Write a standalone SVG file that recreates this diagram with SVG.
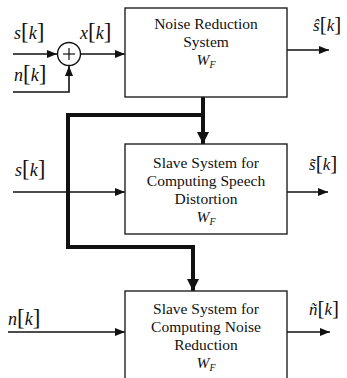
<svg xmlns="http://www.w3.org/2000/svg" width="347" height="378" viewBox="0 0 347 378">
  <style>
    .box { fill: #ffffff; stroke: #222; stroke-width: 1.4; }
    .t { font-family: "Liberation Serif", "Times New Roman", serif; font-size: 15.5px; fill: #111; text-anchor: middle; }
    .m { font-family: "Liberation Serif", "Times New Roman", serif; fill: #111; }
    .i { font-style: italic; }
    .thin { fill: none; stroke: #111; stroke-width: 1.6; }
    .thick { fill: none; stroke: #111; stroke-width: 4; stroke-linejoin: miter; }
  </style>
  <defs>
    <marker id="arr" viewBox="0 0 10 8" refX="10" refY="4" markerWidth="10" markerHeight="8" markerUnits="userSpaceOnUse" orient="auto">
      <path d="M0,0 L10,4 L0,8 Z" fill="#111"/>
    </marker>
    <marker id="arrB" viewBox="0 0 12 12" refX="12" refY="6" markerWidth="12" markerHeight="12" markerUnits="userSpaceOnUse" orient="auto">
      <path d="M0,0 L12,6 L0,12 Z" fill="#111"/>
    </marker>
  </defs>

  <!-- signal connectors -->
  <g id="connectors">
    <line class="thin" x1="13" y1="54" x2="57" y2="54" marker-end="url(#arr)"/>
    <polyline class="thin" points="13,92 69,92 69,66" marker-end="url(#arr)"/>
    <line class="thin" x1="81" y1="54" x2="125" y2="54" marker-end="url(#arr)"/>
    <line class="thin" x1="287" y1="50" x2="329" y2="50" marker-end="url(#arr)"/>
    <line class="thin" x1="13" y1="192" x2="125" y2="192" marker-end="url(#arr)"/>
    <line class="thin" x1="287" y1="192" x2="328" y2="192" marker-end="url(#arr)"/>
    <line class="thin" x1="8" y1="332" x2="125" y2="332" marker-end="url(#arr)"/>
    <line class="thin" x1="287" y1="332" x2="330" y2="332" marker-end="url(#arr)"/>
    <!-- filter weights W_F distributed to the slave systems -->
    <line class="thick" x1="203" y1="97" x2="203" y2="144" marker-end="url(#arrB)"/>
    <polyline class="thick" points="203,115 68,115 68,247 193,247 193,291" marker-end="url(#arrB)"/>
  </g>

  <!-- summing junction -->
  <g id="sum">
    <circle cx="69" cy="54" r="11.5" fill="#fff" stroke="#111" stroke-width="1.4"/>
    <line x1="69" y1="48" x2="69" y2="60" stroke="#111" stroke-width="1.2"/>
    <line x1="63" y1="54" x2="75" y2="54" stroke="#111" stroke-width="1.2"/>
  </g>

  <g id="noise-reduction">
    <rect class="box" x="125" y="8" width="162" height="89"/>
    <text class="t" x="206" y="29">Noise Reduction</text>
    <text class="t" x="206" y="47">System</text>
    <text class="t" x="206" y="65"><tspan class="i">W</tspan><tspan class="i" font-size="10" dy="3">F</tspan></text>
  </g>

  <g id="slave-speech">
    <rect class="box" x="125" y="144" width="162" height="90"/>
    <text class="t" x="206" y="168">Slave System for</text>
    <text class="t" x="206" y="186">Computing Speech</text>
    <text class="t" x="206" y="204">Distortion</text>
    <text class="t" x="206" y="222"><tspan class="i">W</tspan><tspan class="i" font-size="10" dy="3">F</tspan></text>
  </g>

  <g id="slave-noise">
    <rect class="box" x="125" y="291" width="162" height="100"/>
    <text class="t" x="206" y="314">Slave System for</text>
    <text class="t" x="206" y="332">Computing Noise</text>
    <text class="t" x="206" y="350">Reduction</text>
    <text class="t" x="206" y="368"><tspan class="i">W</tspan><tspan class="i" font-size="10" dy="3">F</tspan></text>
  </g>

  <!-- signal labels -->
  <g id="labels">
    <text class="m" x="14" y="39" font-size="18"><tspan class="i">s</tspan><tspan font-size="23">[</tspan><tspan class="i">k</tspan><tspan font-size="23">]</tspan></text>
    <text class="m" x="14" y="81" font-size="18"><tspan class="i">n</tspan><tspan font-size="23">[</tspan><tspan class="i">k</tspan><tspan font-size="23">]</tspan></text>
    <text class="m" x="80" y="39" font-size="18"><tspan class="i">x</tspan><tspan font-size="23">[</tspan><tspan class="i">k</tspan><tspan font-size="23">]</tspan></text>
    <text class="m" x="15" y="176" font-size="18"><tspan class="i">s</tspan><tspan font-size="23">[</tspan><tspan class="i">k</tspan><tspan font-size="23">]</tspan></text>
    <text class="m" x="8" y="325" font-size="18"><tspan class="i">n</tspan><tspan font-size="23">[</tspan><tspan class="i">k</tspan><tspan font-size="23">]</tspan></text>
    <text class="m" x="313" y="31" font-size="17"><tspan class="i">ŝ</tspan><tspan font-size="21">[</tspan><tspan class="i">k</tspan><tspan font-size="21">]</tspan></text>
    <text class="m" x="309" y="170" font-size="17"><tspan class="i">s̃</tspan><tspan font-size="21">[</tspan><tspan class="i">k</tspan><tspan font-size="21">]</tspan></text>
    <text class="m" x="309" y="315" font-size="17"><tspan class="i">ñ</tspan><tspan font-size="21">[</tspan><tspan class="i">k</tspan><tspan font-size="21">]</tspan></text>
  </g>
</svg>
